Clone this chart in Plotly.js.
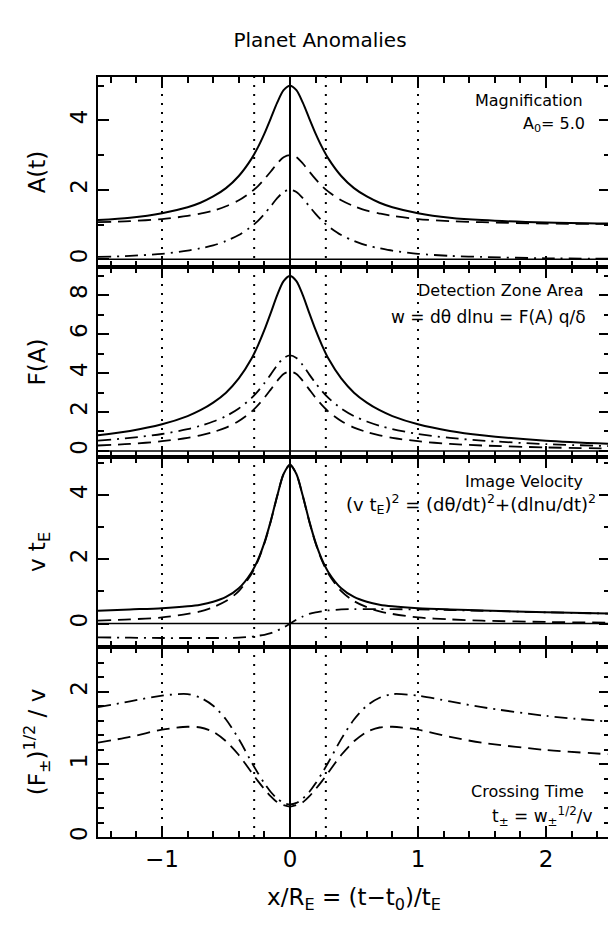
<!DOCTYPE html>
<html><head><meta charset="utf-8">
<script src="https://cdn.plot.ly/plotly-3.0.1.min.js"></script>
<style>html,body{margin:0;padding:0;overflow:hidden;background:#fff}</style>
</head><body>
<div id="chart" style="width:612px;height:941px"></div>
<script>
// ---- data ----
const xPos = [-1.5,-1.25,-1.0,-0.8,-0.7,-0.6,-0.5,-0.4,-0.3,-0.25,-0.2,-0.15,-0.1,-0.05,0,0.05,0.1,0.15,0.2,0.25,0.3,0.4,0.5,0.6,0.7,0.8,1.0,1.25,1.5,2.0,2.5];

// Panel 1: magnification
const magTotal = [1.13,1.20,1.33,1.50,1.63,1.81,2.05,2.40,2.90,3.23,3.62,4.06,4.51,4.87,5.00,4.87,4.51,4.06,3.62,3.23,2.90,2.40,2.05,1.81,1.63,1.50,1.33,1.20,1.13,1.06,1.03];
const magPlus  = [1.07,1.10,1.16,1.25,1.32,1.40,1.53,1.70,1.95,2.11,2.31,2.53,2.76,2.94,3.00,2.94,2.76,2.53,2.31,2.11,1.95,1.70,1.53,1.40,1.32,1.25,1.16,1.10,1.07,1.03,1.02];
const magMinus = [0.07,0.10,0.16,0.25,0.32,0.40,0.53,0.70,0.95,1.11,1.31,1.53,1.76,1.94,2.00,1.94,1.76,1.53,1.31,1.11,0.95,0.70,0.53,0.40,0.32,0.25,0.16,0.10,0.07,0.03,0.02];

// Panel 2: detection zone area
const areaTotal = [0.81,1.03,1.37,1.79,2.09,2.48,2.99,3.72,4.74,5.42,6.21,7.09,8.00,8.72,8.98,8.72,8.00,7.09,6.21,5.42,4.74,3.72,2.99,2.48,2.09,1.79,1.37,1.03,0.81,0.53,0.37];
const areaPlus  = [0.28,0.36,0.50,0.67,0.80,0.97,1.20,1.54,2.02,2.35,2.73,3.16,3.60,3.95,4.08,3.95,3.60,3.16,2.73,2.35,2.02,1.54,1.20,0.97,0.80,0.67,0.50,0.36,0.28,0.18,0.13];
const areaMinus = [0.53,0.67,0.87,1.12,1.29,1.51,1.79,2.18,2.72,3.07,3.48,3.93,4.40,4.77,4.90,4.77,4.40,3.93,3.48,3.07,2.72,2.18,1.79,1.51,1.29,1.12,0.87,0.67,0.53,0.35,0.25];

// Panel 3: image velocity
const velTotal = [0.40,0.44,0.48,0.54,0.59,0.68,0.83,1.10,1.60,1.99,2.52,3.20,3.98,4.66,4.95,4.66,3.98,3.20,2.52,1.99,1.60,1.10,0.83,0.68,0.59,0.54,0.48,0.44,0.41,0.35,0.31];
const velTheta = [0.09,0.13,0.19,0.30,0.38,0.51,0.70,1.01,1.55,1.96,2.50,3.19,3.97,4.66,4.94,4.66,3.97,3.19,2.50,1.96,1.55,1.01,0.70,0.51,0.38,0.30,0.19,0.13,0.09,0.05,0.03];
const velLnu   = [-0.43,-0.44,-0.45,-0.45,-0.45,-0.45,-0.45,-0.44,-0.41,-0.38,-0.35,-0.30,-0.22,-0.12,0.00,0.12,0.22,0.30,0.35,0.38,0.41,0.44,0.45,0.45,0.45,0.45,0.44,0.42,0.40,0.35,0.31];

// Panel 4: crossing time
const crossPlus  = [1.30,1.38,1.48,1.52,1.51,1.45,1.32,1.13,0.89,0.77,0.66,0.56,0.48,0.44,0.42,0.44,0.48,0.56,0.66,0.77,0.89,1.13,1.32,1.45,1.51,1.52,1.48,1.38,1.30,1.20,1.14];
const crossMinus = [1.79,1.87,1.95,1.97,1.92,1.81,1.62,1.35,1.03,0.88,0.74,0.62,0.53,0.47,0.45,0.47,0.53,0.62,0.74,0.88,1.03,1.35,1.62,1.81,1.92,1.97,1.95,1.87,1.79,1.67,1.59];

// reference lines
const markerX = [-1.0,-0.28,0.28,1.0];   // dotted verticals
const centerX = 0;                        // solid vertical
const zeroY = 0;                          // horizontal zero line (panels 1-3)

// axis titles
const yTitles = ['A(t)','F(A)','v t<sub>E</sub>','(F<sub>±</sub>)<sup>1/2</sup> / v'];
const xTitle = 'x/R<sub>E</sub> = (t−t<sub>0</sub>)/t<sub>E</sub>';

// ---- layout ----
const FONT = '"DejaVu Sans", "Liberation Sans", sans-serif';
const W=612,H=941,L=98,R=2,T=77,B=104;
const PW=W-L-R, PH=H-T-B;
const XR=[-1.5,2.5];
const YR=[[-0.22,5.25],[-0.31,9.44],[-0.73,5.19],[0,2.62]];
function px(p){return (p-L)/PW;}
function py(p){return (H-B-p)/PH;}
function sfx(n){return n>1?String(n):'';}

const solid  ={color:'#000',width:2};
const dashed ={color:'#000',width:1.8,dash:'13px,7px'};
const dashdot={color:'#000',width:1.8,dash:'13px,6px,2px,6px'};

function tr(y,line,n){
  return {x:xPos,y:y,type:'scatter',mode:'lines',
    line:Object.assign({shape:'spline',smoothing:0.8},line),
    xaxis:'x'+sfx(n),yaxis:'y'+sfx(n),hoverinfo:'skip',showlegend:false};
}
function refTraces(n){
  const yr=YR[n-1], out=[];
  const dx=[], dy=[];
  markerX.forEach(v=>{dx.push(v,v,null); dy.push(yr[0],yr[1],null);});
  out.push({x:dx,y:dy,type:'scatter',mode:'lines',line:{color:'#000',width:2,dash:'2px,7px'},
    xaxis:'x'+sfx(n),yaxis:'y'+sfx(n),hoverinfo:'skip',showlegend:false});
  out.push({x:[centerX,centerX],y:[yr[0],yr[1]],type:'scatter',mode:'lines',line:{color:'#000',width:2},
    xaxis:'x'+sfx(n),yaxis:'y'+sfx(n),hoverinfo:'skip',showlegend:false});
  if(n<4) out.push({x:XR,y:[zeroY,zeroY],type:'scatter',mode:'lines',line:{color:'#000',width:1.5},
    xaxis:'x'+sfx(n),yaxis:'y'+sfx(n),hoverinfo:'skip',showlegend:false});
  return out;
}
const data = [].concat(refTraces(1),refTraces(2),refTraces(3),refTraces(4),[
  tr(magTotal,solid,1), tr(magPlus,dashed,1), tr(magMinus,dashdot,1),
  tr(areaTotal,solid,2), tr(areaPlus,dashed,2), tr(areaMinus,dashdot,2),
  tr(velTotal,solid,3), tr(velTheta,dashed,3), tr(velLnu,dashdot,3),
  tr(crossPlus,dashed,4), tr(crossMinus,dashdot,4)
]);

const tickFont={family:FONT,size:23,color:'#000'};
const titleFont={family:FONT,size:23,color:'#000'};
function xax(n,labels){
  const a={anchor:'y'+sfx(n),range:XR,showline:true,linecolor:'#000',linewidth:2,
    mirror:'ticks',ticks:'inside',ticklen:11,tickwidth:2,tickcolor:'#000',dtick:1,
    minor:{dtick:0.2,ticks:'inside',ticklen:6,tickwidth:2,tickcolor:'#000'},
    showgrid:false,zeroline:false,showticklabels:labels,tickfont:tickFont};
  if(labels) a.title={text:xTitle,font:titleFont,standoff:18};
  return a;
}
function yax(n,dom,dtick,mdtick){
  return {domain:dom,anchor:'x'+sfx(n),range:YR[n-1],showline:true,linecolor:'#000',linewidth:2,
    mirror:'ticks',ticks:'inside',ticklen:11,tickwidth:2,tickcolor:'#000',dtick:dtick,
    minor:{dtick:mdtick,ticks:'inside',ticklen:6,tickwidth:2,tickcolor:'#000'},
    showgrid:false,zeroline:false,tickangle:-90,tickfont:tickFont,
    title:{text:yTitles[n-1],font:titleFont,standoff:14}};
}

const ann=[];
function addText(text,xp,yp,size){
  ann.push({text:text,xref:'paper',yref:'paper',x:px(xp),y:py(yp),xanchor:'right',yanchor:'middle',
    showarrow:false,font:{family:FONT,size:size,color:'#000'}});
}
addText('Magnification',585,100,16);
addText('A<sub>0</sub>= 5.0',587,124,16);
addText('Detection Zone Area',585,290,16);
addText('w = dθ dlnu = F(A) q/δ',588,317,17);
addText('Image Velocity',585,481,16);
addText('(v t<sub>E</sub>)<sup>2</sup> = (dθ/dt)<sup>2</sup>+(dlnu/dt)<sup>2</sup>',598,504,18);
addText('Crossing Time',586,791,16);
addText('t<sub>±</sub> = w<sub>±</sub><sup>1/2</sup>/v',595,816,17);

const layout={
  width:W,height:H,margin:{l:L,r:R,t:T,b:B,autoexpand:false},
  paper_bgcolor:'#fff',plot_bgcolor:'#fff',showlegend:false,
  font:{family:FONT,color:'#000'},
  title:{text:'Planet Anomalies',xref:'container',yref:'container',x:320/W,y:1-40/H,
    xanchor:'center',yanchor:'middle',font:{family:FONT,size:20,color:'#000'}},
  xaxis:xax(1,false), xaxis2:xax(2,false), xaxis3:xax(3,false), xaxis4:xax(4,true),
  yaxis:yax(1,[0.75,1],2,1),
  yaxis2:yax(2,[0.5,0.75],2,1),
  yaxis3:yax(3,[0.25,0.5],2,1),
  yaxis4:yax(4,[0,0.25],1,0.2),
  annotations:ann
};
Plotly.newPlot('chart',data,layout,{displayModeBar:false});
</script>
</body></html>
